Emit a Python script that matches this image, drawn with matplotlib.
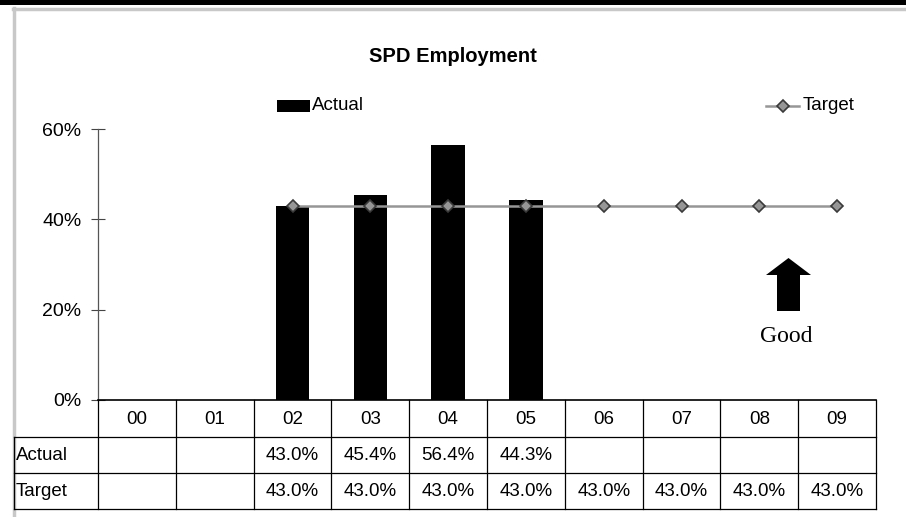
import matplotlib.pyplot as plt
from matplotlib.lines import Line2D
from matplotlib.patches import Rectangle, FancyArrow

plt.rcParams['font.family'] = ['Liberation Sans', 'DejaVu Sans']

# data
years = ["00", "01", "02", "03", "04", "05", "06", "07", "08", "09"]
actual = [None, None, 0.430, 0.454, 0.564, 0.443, None, None, None, None]
target = [None, None, 0.430, 0.430, 0.430, 0.430, 0.430, 0.430, 0.430, 0.430]
yticks = [0, 0.2, 0.4, 0.6]

W, H = 906, 517
fig = plt.figure(figsize=(W / 100, H / 100), dpi=100)


def fx(px):
    return px / W


def fy(py):
    return 1 - py / H


# outer frame pieces
fig.add_artist(Rectangle((0, fy(5)), 1, 5 / H, transform=fig.transFigure,
                         color="black", lw=0))
fig.add_artist(Line2D([fx(13), 1], [fy(8.5), fy(8.5)], color="#c8c8c8", lw=2.5))
fig.add_artist(Line2D([fx(13.5), fx(13.5)], [fy(8), 0], color="#c8c8c8", lw=2.5))

x0, x1 = 98, 876
y0, y1 = 400, 129
ax = fig.add_axes([fx(x0), fy(y0), fx(x1) - fx(x0), (y0 - y1) / H])
n = len(years)
xs = list(range(n))

marker_kw = dict(marker="D", markersize=6.5, markerfacecolor="#969696",
                 markeredgecolor="#3a3a3a", markeredgewidth=1.2)
bx = [i for i in xs if actual[i] is not None]
ax.bar(bx, [actual[i] for i in bx], width=0.43, color="black")
tx = [i for i in xs if target[i] is not None]
ax.plot(tx, [target[i] for i in tx], color="#969696", lw=1.8, **marker_kw)

ax.set_xlim(-0.5, n - 0.5)
ax.set_ylim(0, 0.6)
ax.set_yticks(yticks)
ax.set_yticklabels([f"{int(v * 100)}%" for v in yticks], fontsize=14)
ax.tick_params(axis="y", direction="inout", length=10, width=0.8, color="#444444",
               pad=7)
ax.set_xticks([])
for s in ["top", "right"]:
    ax.spines[s].set_visible(False)
ax.spines["left"].set_color("#555555")
ax.spines["left"].set_linewidth(0.9)
ax.spines["bottom"].set_color("black")
ax.spines["bottom"].set_linewidth(1.2)

fig.text(fx(453), fy(57), "SPD Employment", ha="center", va="center",
         fontsize=14.5, fontweight="bold")

# legend entries
fig.add_artist(Rectangle((fx(277), fy(112)), 33 / W, 12 / H,
                         transform=fig.transFigure, color="black", lw=0))
fig.text(fx(312), fy(106), "Actual", ha="left", va="center", fontsize=13.5)
fig.add_artist(Line2D([fx(766), fx(799)], [fy(106), fy(106)],
                      color="#969696", lw=1.8))
fig.add_artist(Line2D([fx(782.5)], [fy(106)], linestyle="none", **marker_kw))
fig.text(fx(803), fy(106), "Target", ha="left", va="center", fontsize=13.5)

# Good arrow
fig.add_artist(FancyArrow(fx(788.5), fy(311), 0, (311 - 258) / H,
                          width=(23 / W), head_width=(45 / W),
                          head_length=(17 / H), length_includes_head=True,
                          transform=fig.transFigure, color="black", lw=0))
fig.text(fx(786.5), fy(337), "Good", ha="center", va="center", fontsize=17,
         family="Liberation Serif")

# data table under the axis
col_w = (x1 - x0) / n
rows = [437, 473, 509]
lc = "black"
lw = 0.9
for ry in rows:
    fig.add_artist(Line2D([fx(14), fx(x1)], [fy(ry), fy(ry)], color=lc, lw=lw))
for i in range(n + 1):
    cx = x0 + i * col_w
    fig.add_artist(Line2D([fx(cx), fx(cx)], [fy(y0), fy(509)], color=lc, lw=lw))
fig.add_artist(Line2D([fx(14), fx(14)], [fy(437), fy(509)], color=lc, lw=lw))

fs = 13.5
for i, yr in enumerate(years):
    cx = x0 + (i + 0.5) * col_w
    fig.text(fx(cx), fy(419), yr, ha="center", va="center", fontsize=fs)
    if actual[i] is not None:
        fig.text(fx(cx), fy(456), f"{actual[i] * 100:.1f}%", ha="center",
                 va="center", fontsize=fs)
    if target[i] is not None:
        fig.text(fx(cx), fy(492), f"{target[i] * 100:.1f}%", ha="center",
                 va="center", fontsize=fs)
fig.text(fx(16), fy(456), "Actual", ha="left", va="center", fontsize=fs)
fig.text(fx(16), fy(492), "Target", ha="left", va="center", fontsize=fs)

fig.savefig("out.png", dpi=100)
